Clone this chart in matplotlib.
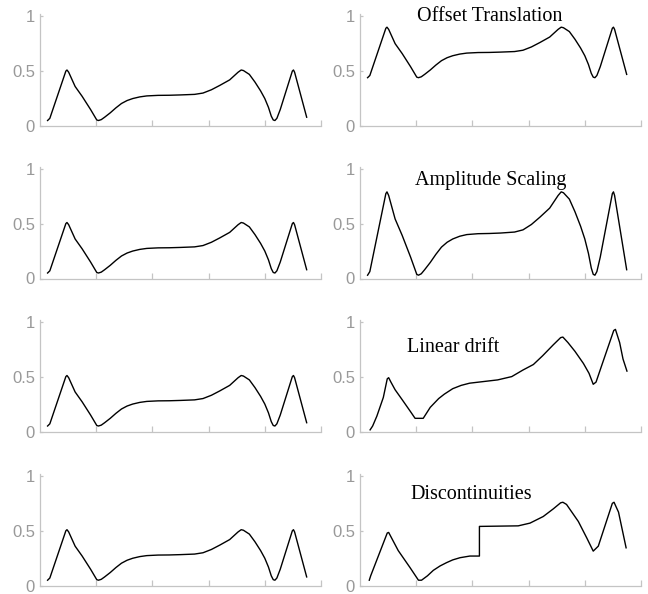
## signal distortion panels
import matplotlib
matplotlib.use("Agg")
import matplotlib.pyplot as plt

# base signal (left column, same in every row)
x_base = [2.7, 3.5, 9.2, 9.6, 10.2, 12.5, 15, 18, 20.2, 20.8, 21.8, 23, 25, 27, 29,
          31, 33, 35.5, 38, 42, 46, 50, 55, 58, 61, 64, 67.5, 70.5, 71.6, 72.4,
          74.5, 76.5, 78.5, 80, 81.3, 82.3, 83, 83.6, 84.3, 85.5, 89.8, 90.2, 90.6,
          94.9]
y_base = [0.05, 0.07, 0.50, 0.51, 0.49, 0.36, 0.27, 0.15, 0.055, 0.05, 0.058, 0.08,
          0.12, 0.165, 0.205, 0.232, 0.25, 0.265, 0.274, 0.279, 0.28, 0.283, 0.288,
          0.30, 0.33, 0.37, 0.42, 0.49, 0.51, 0.505, 0.47, 0.40, 0.32, 0.25, 0.17,
          0.09, 0.055, 0.05, 0.07, 0.15, 0.50, 0.51, 0.49, 0.08]

# offset translation
y_offset = [0.44, 0.46, 0.89, 0.90, 0.88, 0.75, 0.66, 0.54, 0.445, 0.44, 0.448, 0.47,
            0.51, 0.555, 0.595, 0.622, 0.64, 0.655, 0.664, 0.669, 0.67, 0.673, 0.678,
            0.69, 0.72, 0.76, 0.81, 0.88, 0.90, 0.895, 0.86, 0.79, 0.71, 0.64, 0.56,
            0.48, 0.445, 0.44, 0.46, 0.54, 0.89, 0.90, 0.88, 0.47]

# amplitude scaling
y_amp = [0.03, 0.063, 0.773, 0.789, 0.756, 0.542, 0.393, 0.195, 0.038, 0.03, 0.043,
         0.08, 0.146, 0.22, 0.286, 0.33, 0.36, 0.385, 0.40, 0.408, 0.41, 0.414, 0.423,
         0.443, 0.492, 0.558, 0.641, 0.756, 0.789, 0.781, 0.723, 0.608, 0.476, 0.36,
         0.228, 0.096, 0.038, 0.03, 0.063, 0.195, 0.773, 0.789, 0.756, 0.08]

# linear drift
x_drift = [3.6, 4.5, 6, 8.3, 9.7, 10.2, 11, 12.5, 15, 18, 19.6, 22.5, 25, 28, 30, 33,
           36, 39, 44, 49, 54, 58, 61.7, 65, 68.8, 71.4, 72.2, 74, 76.5, 79.5, 81.5,
           83, 84, 86, 90.3, 90.9, 92.4, 93.6, 95]
y_drift = [0.015, 0.05, 0.14, 0.31, 0.48, 0.49, 0.45, 0.38, 0.29, 0.18, 0.12, 0.12,
           0.22, 0.30, 0.34, 0.39, 0.42, 0.44, 0.455, 0.47, 0.50, 0.56, 0.61, 0.69,
           0.79, 0.855, 0.86, 0.81, 0.73, 0.62, 0.53, 0.43, 0.45, 0.60, 0.92, 0.93,
           0.81, 0.66, 0.55]

# discontinuities
x_disc = [3.3, 3.8, 9.7, 10.2, 13.6, 17.8, 20.8, 21.9, 24, 26.1, 28.5, 30.8, 33,
          35.6, 39.1, 42.5, 42.5, 56.3, 60.5, 65.2, 68.8, 71.4, 72.2, 73.5, 77.7,
          80.7, 83, 84.8, 89.8, 90.4, 92, 94.7]
y_disc = [0.05, 0.09, 0.48, 0.485, 0.32, 0.165, 0.05, 0.05, 0.09, 0.14, 0.18, 0.21,
          0.235, 0.255, 0.27, 0.27, 0.54, 0.545, 0.57, 0.63, 0.70, 0.755, 0.76, 0.74,
          0.585, 0.435, 0.315, 0.36, 0.75, 0.76, 0.67, 0.345]

titles = ["Offset Translation", "Amplitude Scaling", "Linear drift", "Discontinuities"]
title_pos = [(46, 0.957), (46.4, 0.85), (33.2, 0.727), (39.6, 0.79)]

right_x = [x_base, x_base, x_drift, x_disc]
right_y = [y_offset, y_amp, y_drift, y_disc]

W, H = 648, 594
fig = plt.figure(figsize=(W / 100, H / 100), dpi=100)

gray = "#c4c4c4"
lab = "#999999"
bottoms = [126, 278.5, 431.5, 585.7]
cols = [(40, 321), (360, 641)]

def style(ax):
    ax.set_xlim(0, 100)
    ax.set_ylim(0, 1.02)
    for s in ["top", "right"]:
        ax.spines[s].set_visible(False)
    for s in ["left", "bottom"]:
        ax.spines[s].set_color(gray)
        ax.spines[s].set_linewidth(0.9)
    ax.set_xticks([20, 40, 60, 80, 100])
    ax.set_xticklabels([])
    ax.set_yticks([0, 0.5, 1])
    ax.set_yticklabels(["0", "0.5", "1"], fontfamily="Liberation Sans",
                       fontsize=12, color=lab)
    ax.tick_params(axis="x", direction="in", length=4, color=gray, width=0.9)
    ax.tick_params(axis="y", direction="in", length=2.5, color=gray, width=0.9, pad=3.6)
    ax.patch.set_alpha(0)

for i in range(4):
    b = bottoms[i]
    for j, (l, r) in enumerate(cols):
        ax = fig.add_axes([l / W, 1 - b / H, (r - l) / W, 112 / H])
        style(ax)
        if j == 0:
            ax.plot(x_base, y_base, color="black", lw=1.0)
        else:
            ax.plot(right_x[i], right_y[i], color="black", lw=1.0)
            tx, ty = title_pos[i]
            ax.text(tx, ty, titles[i], ha="center", va="baseline",
                    fontfamily="Liberation Serif", fontsize=14.5, color="black")

fig.savefig("out.png", dpi=100)
